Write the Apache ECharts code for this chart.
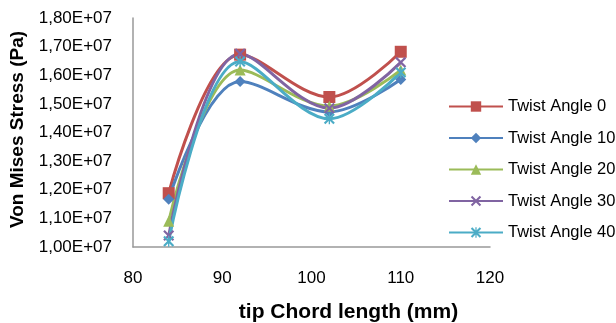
<!DOCTYPE html>
<html><head><meta charset="utf-8">
<script src="https://cdn.jsdelivr.net/npm/echarts@6/dist/echarts.min.js"></script>
<style>html,body{margin:0;padding:0;background:#fff}#c{width:616px;height:323px}</style>
</head><body><div id="c"></div>
<script>
const chordLength = [84, 92, 102, 110];
const twist0  = [1.188e7, 1.672e7, 1.524e7, 1.682e7];
const twist10 = [1.167e7, 1.578e7, 1.472e7, 1.585e7];
const twist20 = [1.090e7, 1.618e7, 1.492e7, 1.618e7];
const twist30 = [1.040e7, 1.675e7, 1.485e7, 1.645e7];
const twist40 = [1.020e7, 1.648e7, 1.448e7, 1.610e7];
const seriesNames = ['Twist Angle 0','Twist Angle 10','Twist Angle 20','Twist Angle 30','Twist Angle 40'];
const xTicks = [80, 90, 100, 110, 120];
const yTicks = [1.0e7, 1.1e7, 1.2e7, 1.3e7, 1.4e7, 1.5e7, 1.6e7, 1.7e7, 1.8e7];

const colors = ['#C0504D','#4F81BD','#9BBB59','#8064A2','#4BACC6'];
const xPath = 'path://M0,1.4 L1.4,0 L5,3.6 L8.6,0 L10,1.4 L6.4,5 L10,8.6 L8.6,10 L5,6.4 L1.4,10 L0,8.6 L3.6,5 Z';
const starPath = 'path://M0,1.4 L1.4,0 L5,3.6 L8.6,0 L10,1.4 L6.4,5 L10,8.6 L8.6,10 L5,6.4 L1.4,10 L0,8.6 L3.6,5 Z M4.4,0 L5.6,0 L5.6,10 L4.4,10 Z';
const symbols = ['rect','diamond','triangle',xPath,starPath];
const sizes = [12, 11, 11, 11, 11];
const allData = [twist0, twist10, twist20, twist30, twist40];

const chart = echarts.init(document.getElementById('c'));
chart.setOption({
  animation:false,
  textStyle:{fontFamily:'Liberation Sans, Arial, sans-serif'},
  grid:{left:133, top:18, right:126, bottom:76, containLabel:false, outerBoundsMode:'none'},
  xAxis:{type:'value', min:xTicks[0], max:xTicks[xTicks.length-1], interval:10,
    name:'tip Chord length (mm)', nameLocation:'middle', nameGap:55,
    nameTextStyle:{fontSize:21, fontWeight:'bold', color:'#000', padding:[0,0,0,74]},
    axisLine:{lineStyle:{color:'#999', width:1.5}}, axisTick:{show:false},
    axisLabel:{fontSize:17, color:'#000', margin:23}, splitLine:{show:false}},
  yAxis:{type:'value', min:yTicks[0], max:yTicks[yTicks.length-1], interval:1e6,
    name:'Von Mises Stress (Pa)', nameLocation:'middle', nameGap:106,
    nameTextStyle:{fontSize:19, fontWeight:'bold', color:'#000', padding:[0,0,0,6]},
    axisLine:{show:true, lineStyle:{color:'#999', width:1.5}}, axisTick:{show:false},
    axisLabel:{fontSize:17, color:'#000', margin:21,
      formatter:v=>(v/1e7).toFixed(2).replace('.',',')+'E+07'},
    splitLine:{show:false}},
  legend:{orient:'vertical', left:443, top:93, itemWidth:54, itemHeight:13, itemGap:14.5,
    textStyle:{fontSize:16.5, color:'#000'}, data:seriesNames},
  series: allData.map((d,i)=>({
    name:seriesNames[i], type:'line', smooth:0.35,
    data: chordLength.map((x,j)=>[x,d[j]]),
    symbol:symbols[i], symbolSize:sizes[i], showSymbol:true,
    lineStyle:{color:colors[i], width:3}, itemStyle:{color:colors[i]}
  }))
});
</script></body></html>
